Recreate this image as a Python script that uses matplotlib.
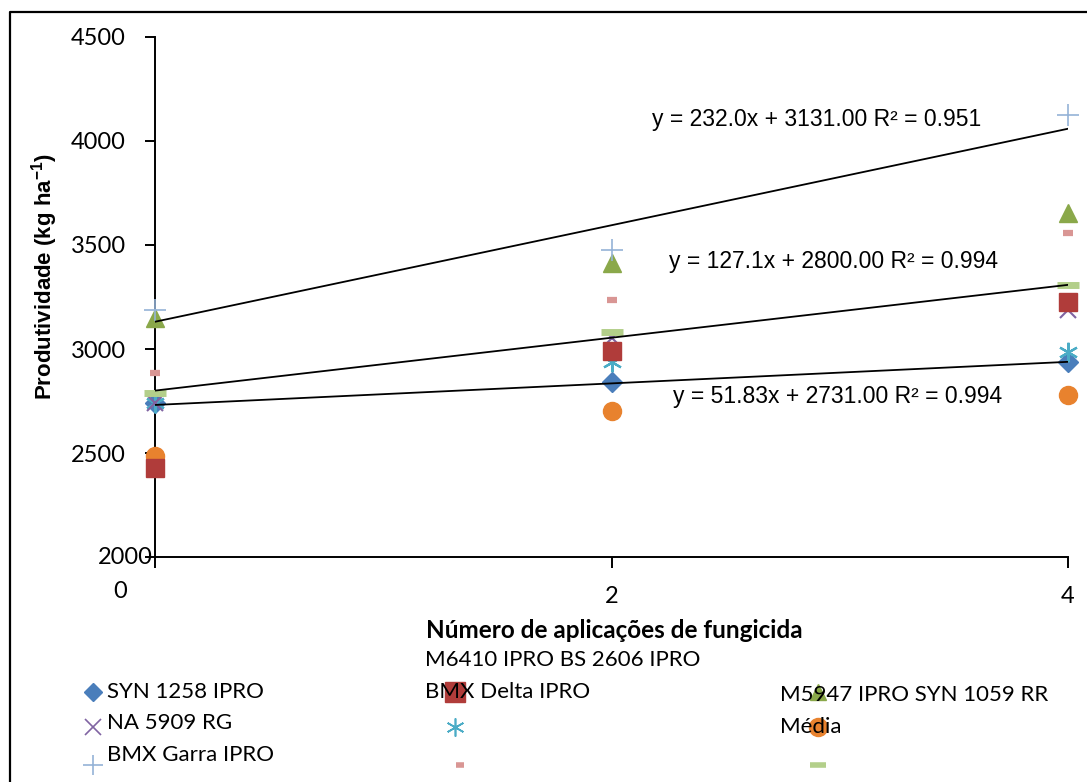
import matplotlib
matplotlib.use("Agg")
import matplotlib.pyplot as plt
import numpy as np

# --- data ---
x_apps = [0, 2, 4]

syn1258 = [2740, 2841, 2938]      # diamond
sq_red = [2428, 2990, 3226]       # square
tri_green = [3149, 3413, 3654]    # triangle
na5909 = [2740, 3053, 3188]       # x
ast_teal = [2740, 2938, 2986]     # asterisk
circ_orange = [2486, 2702, 2779]  # circle
garra = [3187, 3476, 4125]        # plus
dash_pink = [2885, 3236, 3558]    # pink dash
media = [2788, 3082, 3308]        # light green dash

# trend lines: slope, intercept, r2
trend_slope = [232.0, 127.1, 51.83]
trend_icpt = [3131.00, 2800.00, 2731.00]
trend_r2 = [0.951, 0.994, 0.994]
trend_text_pos = [(2.177, 4101), (2.252, 3423), (2.269, 2774)]

yticks = [2000, 2500, 3000, 3500, 4000, 4500]

plt.rcParams["mathtext.default"] = "regular"

W, H = 1087, 782
fig = plt.figure(figsize=(W / 100, H / 100), dpi=100)
ax = fig.add_axes([155 / W, 1 - 557 / H, (1068 - 155) / W, (557 - 37) / H])

styles = [
    (syn1258, dict(marker="D", color="#4A7EBB", ms=10, ls="none")),
    (ast_teal, dict(marker=(6, 2, 0), color="#4BACC6", ms=14, mew=1.6, ls="none")),
    (na5909, dict(marker="x", color="#8064A2", ms=12, mew=1.5, ls="none")),
    (circ_orange, dict(marker="o", color="#E8822E", ms=13, ls="none")),
    (sq_red, dict(marker="s", color="#B03C3A", ms=13, ls="none")),
    (media, dict(marker="_", color="#B3CF8A", ms=16, mew=5, ls="none")),
    (dash_pink, dict(marker="_", color="#D99694", ms=7, mew=4.5, ls="none")),
    (tri_green, dict(marker="^", color="#8AA84A", ms=13, ls="none")),
    (garra, dict(marker="+", color="#95B3D7", ms=16, mew=1.2, ls="none")),
]
for vals, kw in styles:
    ax.plot(x_apps, vals, clip_on=False, zorder=3, **kw)

xs = np.array([0, 4])
for m, b, r2, (tx, ty) in zip(trend_slope, trend_icpt, trend_r2, trend_text_pos):
    ax.plot(xs, m * xs + b, color="black", lw=1.3, zorder=4)
    ax.text(tx, ty, f"y = {m}x + {b:.2f} R\u00b2 = {r2}", fontsize=16.5,
            family="Liberation Sans", va="center", ha="left")

ax.set_xlim(0, 4)
ax.set_ylim(2000, 4500)
ax.spines["top"].set_visible(False)
ax.spines["right"].set_visible(False)
for s in ("left", "bottom"):
    ax.spines[s].set_linewidth(1.4)

ax.set_yticks(yticks)
ax.set_yticklabels([""] + [str(v) for v in yticks[1:]], family="Lato", fontsize=17)
ax.tick_params(axis="y", length=7, width=1.4, pad=14)
ax.set_xticks(x_apps)
ax.set_xticklabels(["", "2", "4"], family="Lato", fontsize=17)
ax.tick_params(axis="x", length=8, width=1.4, pad=13)

# offset labels as in the original export
ax.text(-0.01, 2000, "2000", family="Lato", fontsize=17, ha="right", va="center",
        transform=ax.transData, clip_on=False)
fig.text(120 / W, 1 - 592 / H, "0", family="Lato", fontsize=17, ha="center", va="center")

fig.text(45 / W, 1 - 277 / H, r"Produtividade (kg ha$^{-1}$)", rotation=90,
         family="Liberation Sans", fontweight="bold", fontsize=16,
         ha="center", va="center")
fig.text(614 / W, 1 - 630 / H, "Número de aplicações de fungicida", family="Lato",
         fontweight="bold", fontsize=17.5, ha="center", va="center")

# overlay in pixel space for frame and the legend block
lax = fig.add_axes([0, 0, 1, 1], zorder=-1)
lax.set_xlim(0, W)
lax.set_ylim(H, 0)
lax.axis("off")
lax.plot([10, 10, W], [H, 12, 12], color="black", lw=1.6)

leg_marks = [
    ((93, 692), dict(marker="D", color="#4A7EBB", ms=9)),
    ((455, 692), dict(marker="s", color="#B03C3A", ms=14)),
    ((818, 692), dict(marker="^", color="#8AA84A", ms=11)),
    ((93, 727), dict(marker="x", color="#8064A2", ms=11, mew=1.2)),
    ((455, 727), dict(marker=(6, 2, 0), color="#4BACC6", ms=13, mew=1.2)),
    ((818, 727), dict(marker="o", color="#E8822E", ms=13)),
    ((93, 765), dict(marker="+", color="#95B3D7", ms=14, mew=1.2)),
    ((460, 765), dict(marker="_", color="#D99694", ms=6, mew=4)),
    ((818, 765), dict(marker="_", color="#B3CF8A", ms=11, mew=4)),
]
for (px, py), kw in leg_marks:
    lax.plot([px], [py], ls="none", **kw)

leg_texts = [
    ((107, 692), "SYN 1258 IPRO"),
    ((425, 660), "M6410 IPRO BS 2606 IPRO"),
    ((425, 692), "BMX Delta IPRO"),
    ((780, 695), "M5947 IPRO SYN 1059 RR"),
    ((107, 723), "NA 5909 RG"),
    ((780, 727), "Média"),
    ((107, 755), "BMX Garra IPRO"),
]
for (px, py), t in leg_texts:
    lax.text(px, py, t, family="Lato", fontsize=16, ha="left", va="center")

fig.savefig("out.png", dpi=100)
